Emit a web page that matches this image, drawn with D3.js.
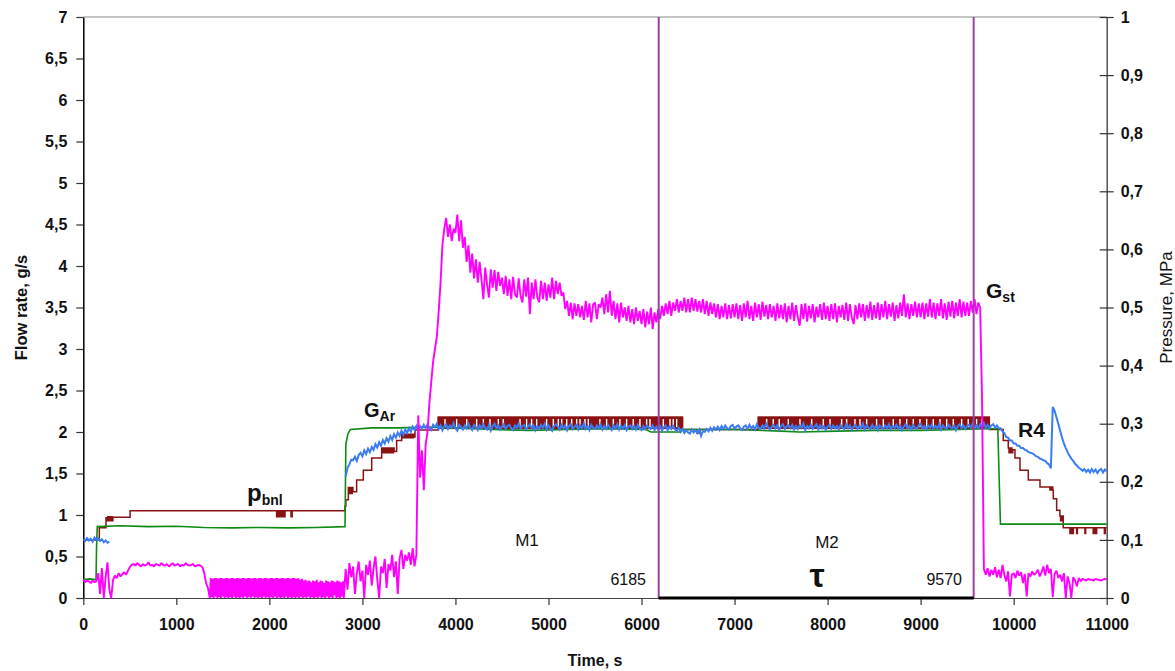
<!DOCTYPE html>
<html><head><meta charset="utf-8">
<script src="https://cdn.jsdelivr.net/npm/d3@7"></script>
<style>
body{margin:0;background:#fff}
text{font-family:"Liberation Sans",Arial,sans-serif}
</style>
</head><body>
<svg id="c" width="1175" height="671"></svg>
<script>
// ---------------- DATA ----------------
const timeTicks = [0,1000,2000,3000,4000,5000,6000,7000,8000,9000,10000,11000];
const flowTicks = [0,0.5,1,1.5,2,2.5,3,3.5,4,4.5,5,5.5,6,6.5,7];
const pressureTicks = [0,0.1,0.2,0.3,0.4,0.5,0.6,0.7,0.8,0.9,1];
const markerTimes = [6185, 9570];
const sampleStep = 20; // default s between samples of the logged signals

// G_st, g/s  (rows: [start time, samples, optional sample step])
const gstRows = [
 [0,[0.22,0.19,0.21,0.20,0.18,0.21,0.19,0.20,0.30,0.05,0.36,0.00,0.25,0.43,0.10,0.00,0.22,0.27,0.24,0.30,0.26,0.29,0.31,0.28,0.33]],
 [500,[0.37,0.40,0.41,0.39,0.42,0.40,0.38,0.41,0.39,0.40,0.43,0.39,0.40,0.38,0.41,0.40,0.39,0.42,0.40,0.39,0.41,0.38,0.40,0.42,0.39]],
 [1000,[0.40,0.41,0.38,0.40,0.39,0.42,0.40,0.39,0.40,0.41,0.38,0.39,0.40,0.39,0.37,0.30,0.18,0.12]],
 [1360,[0.00,0.24,0.01,0.23,0.00,0.24,0.02,0.24,0.00,0.23, 0.01,0.24,0.00,0.24,0.02,0.23,0.00,0.24,0.01,0.24,
        0.00,0.23,0.01,0.24,0.00,0.24,0.02,0.23,0.00,0.24, 0.01,0.24,0.00,0.23,0.01,0.24,0.00,0.24,0.02,0.23,
        0.00,0.24,0.01,0.24,0.00,0.23,0.02,0.24,0.00,0.24, 0.01,0.23,0.00,0.24,0.01,0.24,0.00,0.23,0.02,0.24,
        0.00,0.24,0.01,0.23,0.00,0.24,0.01,0.24,0.00,0.23, 0.02,0.24,0.00,0.24,0.01,0.23,0.00,0.24,0.01,0.24,
        0.00,0.23,0.02,0.24,0.00,0.24,0.01,0.23,0.00,0.24, 0.01,0.24,0.00,0.23,0.01,0.24,0.00,0.22,0.02,0.23,
        0.00,0.21,0.01,0.22,0.00,0.20,0.02,0.21,0.00,0.19, 0.01,0.21,0.00,0.20,0.01,0.22,0.00,0.19,0.02,0.21,
        0.00,0.20,0.01,0.18,0.00,0.21,0.02,0.20,0.00,0.19, 0.01,0.21,0.00,0.20,0.03,0.19,0.00,0.21,0.01,0.20,
        0.00,0.19,0.02,0.20,0.00,0.18], 10],
 [2820,[0.35,0.10,0.42,0.25,0.38,0.05,0.30,0.44,0.20]],
 [3000,[0.33,0.00,0.40,0.28,0.45,0.15,0.36,0.50,0.22,0.00,0.38,0.30,0.47,0.12,0.41,0.33,0.52,0.25,0.44,0.05,0.48,0.58,0.35,0.52,0.45]],
 [3500,[0.55,0.40,0.60,0.38,0.52,2.20,1.45,1.78,1.30,1.85,2.00,2.35,2.60,2.85,3.00,3.15,3.45,3.80,4.25,4.45,4.58,4.35,4.50,4.30,4.45]],
 [4000,[4.40,4.62,4.30,4.55,4.22,4.35,4.05,4.25,3.92,4.15,3.85,4.08,3.80,4.05,3.84,3.60,3.98,3.78,3.62,3.96,3.74,3.95,3.70,3.93,3.76]],
 [4500,[3.86,3.66,3.88,3.64,3.84,3.60,3.87,3.66,3.62,3.85,3.64,3.56,3.84,3.63,3.86,3.42,3.80,3.60,3.84,3.62,3.56,3.82,3.60,3.80,3.58]],
 [5000,[3.78,3.62,3.86,3.60,3.82,3.66,3.80,3.64,3.68,3.48,3.58,3.40,3.56,3.36,3.55,3.40,3.54,3.38,3.52,3.35,3.58,3.38,3.55,3.32,3.54]],
 [5500,[3.56,3.36,3.54,3.50,3.62,3.42,3.66,3.44,3.70,3.40,3.58,3.36,3.55,3.32,3.56,3.38,3.50,3.34,3.52,3.32,3.48,3.30,3.50,3.34,3.46]],
 [6000,[3.30,3.48,3.26,3.45,3.30,3.50,3.24,3.44,3.32,3.48,3.36,3.52,3.40,3.55,3.42,3.58,3.40,3.56,3.46,3.60,3.44,3.58,3.46,3.62,3.44]],
 [6500,[3.60,3.44,3.62,3.46,3.60,3.45,3.58,3.44,3.60,3.42,3.58,3.40,3.56,3.42,3.55,3.38,3.54,3.36,3.52,3.38,3.55,3.36,3.53,3.37,3.54]],
 [7000,[3.38,3.55,3.36,3.53,3.34,3.55,3.38,3.58,3.36,3.52,3.34,3.56,3.38,3.54,3.35,3.57,3.39,3.53,3.36,3.54,3.38,3.52,3.34,3.55,3.37]],
 [7500,[3.53,3.36,3.55,3.32,3.52,3.36,3.56,3.34,3.53,3.38,3.28,3.54,3.36,3.55,3.33,3.52,3.37,3.54,3.32,3.51,3.38,3.54,3.35,3.56,3.36]],
 [8000,[3.52,3.34,3.54,3.36,3.55,3.32,3.52,3.38,3.53,3.35,3.56,3.34,3.54,3.38,3.30,3.53,3.36,3.55,3.38,3.54,3.34,3.53,3.37,3.57,3.35]],
 [8500,[3.53,3.37,3.56,3.35,3.54,3.38,3.58,3.36,3.54,3.39,3.56,3.34,3.53,3.37,3.56,3.40,3.66,3.38,3.55,3.36,3.54,3.40,3.57,3.38,3.55]],
 [9000,[3.38,3.56,3.36,3.55,3.39,3.60,3.38,3.56,3.36,3.55,3.40,3.60,3.37,3.55,3.35,3.57,3.39,3.58,3.37,3.56,3.40,3.60,3.38,3.57,3.40]],
 [9500,[3.56,3.40,3.58,3.44,3.60,3.42,3.56,3.50,2.40,0.35,0.28,0.36,0.26,0.34,0.28,0.37,0.25,0.34,0.24,0.40,0.28,0.20,0.32,0.02,0.28]],
 [10000,[0.30,0.24,0.33,0.27,0.31,0.18,0.29,0.02,0.30,0.26,0.32,0.28,0.30,0.34,0.26,0.31,0.38,0.27,0.40,0.30,0.35,0.01,0.29,0.33,0.24]],
 [10500,[0.28,0.20,0.30,0.00,0.26,0.18,0.00,0.25,0.21,0.14,0.24,0.20,0.23,0.22,0.21,0.23,0.22,0.22,0.21,0.23,0.22,0.22,0.21,0.22,0.23]],
 [11000,[0.22]]
];

// G_Ar, g/s  ([time, value])
const garPoints = [[0,0.22],[70,0.23],[137,0.22],[142,0.60],[150,0.86],[400,0.87],[700,0.86],[1000,0.865],[1300,0.85],[1600,0.845],[1900,0.85],[2200,0.845],[2500,0.85],[2813,0.86],[2822,1.85],[2845,1.98],[2870,2.03],[3100,2.05],[3400,2.05],[3700,2.06],[4000,2.05],[4400,2.03],[4800,2.02],[5200,2.03],[5600,2.04],[6050,2.03],[6100,2.00],[6420,2.00],[6440,2.03],[7000,2.03],[7500,2.01],[7700,2.00],[8100,2.01],[8500,2.02],[9000,2.02],[9400,2.03],[9700,2.04],[9830,2.04],[9845,1.40],[9858,0.89],[11000,0.89]];

// R4, MPa  (rows: [start time, samples every 20 s]); no record between 300 and 2820 s
const r4StartRows = [
 [0,[0.101,0.098,0.103,0.099,0.102,0.097,0.104,0.100,0.103,0.098,0.101,0.096,0.099,0.095,0.097]]
];
const r4MainRows = [
 [2820,[0.209,0.224,0.230,0.238,0.237,0.243,0.236,0.246,0.250,0.244,0.254,0.248,0.257,0.251,0.260]],
 [3120,[0.255,0.265,0.259,0.268,0.262,0.272,0.266,0.275,0.269,0.279,0.272,0.282,0.276,0.285,0.279,0.288,0.281,0.290,0.284,0.292,0.286,0.295,0.289,0.296]],
 [3600,[0.289,0.296,0.291,0.298,0.292,0.299,0.293,0.289,0.298,0.294,0.300,0.291,0.297,0.289,0.296,0.299,0.291,0.297,0.293,0.301,0.292,0.288,0.298,0.294,0.290]],
 [4100,[0.297,0.292,0.300,0.293,0.289,0.298,0.294,0.289,0.297,0.292,0.299,0.293,0.290,0.298,0.288,0.296,0.300,0.292,0.297,0.290,0.295,0.299,0.291,0.296,0.298]],
 [4600,[0.292,0.289,0.297,0.293,0.300,0.291,0.296,0.298,0.290,0.295,0.299,0.292,0.297,0.289,0.296,0.291,0.298,0.293,0.300,0.290,0.297,0.292,0.288,0.296,0.299]],
 [5100,[0.295,0.290,0.298,0.292,0.297,0.289,0.296,0.299,0.291,0.295,0.298,0.290,0.297,0.292,0.300,0.291,0.296,0.289,0.298,0.293,0.291,0.297,0.292,0.299,0.290]],
 [5600,[0.296,0.291,0.298,0.293,0.289,0.297,0.292,0.299,0.290,0.296,0.292,0.298,0.289,0.295,0.297,0.291,0.296,0.290,0.298,0.292,0.289,0.296,0.291,0.297,0.293]],
 [6100,[0.291,0.297,0.289,0.295,0.290,0.296,0.288,0.294,0.297,0.289,0.295,0.291,0.296,0.290,0.288,0.293,0.286,0.291,0.284,0.289,0.285,0.283,0.290,0.285,0.289]],
 [6600,[0.284,0.290,0.279,0.287,0.286,0.291,0.287,0.293,0.288,0.294,0.290,0.295,0.289,0.296,0.291,0.297,0.292,0.290,0.296,0.298,0.291,0.295,0.297,0.292,0.289]],
 [7100,[0.295,0.297,0.291,0.298,0.292,0.296,0.290,0.299,0.293,0.291,0.297,0.292,0.300,0.294,0.290,0.295,0.298,0.292,0.297,0.289,0.296,0.299,0.291,0.295,0.297]],
 [7600,[0.292,0.298,0.290,0.296,0.291,0.297,0.293,0.300,0.289,0.296,0.292,0.298,0.291,0.295,0.299,0.290,0.297,0.292,0.296,0.289,0.295,0.298,0.291,0.297,0.292]],
 [8100,[0.296,0.290,0.298,0.293,0.291,0.299,0.292,0.297,0.289,0.295,0.298,0.291,0.296,0.292,0.300,0.290,0.297,0.293,0.291,0.298,0.292,0.296,0.289,0.297,0.293]],
 [8600,[0.291,0.297,0.292,0.299,0.290,0.296,0.293,0.298,0.291,0.297,0.289,0.295,0.299,0.292,0.296,0.290,0.298,0.293,0.291,0.297,0.300,0.292,0.296,0.290,0.297]],
 [9100,[0.293,0.298,0.291,0.296,0.292,0.299,0.290,0.297,0.293,0.291,0.298,0.294,0.292,0.297,0.289,0.296,0.299,0.292,0.297,0.291,0.296,0.298,0.293,0.300,0.292]],
 [9600,[0.297,0.292,0.299,0.294,0.301,0.293,0.298,0.292,0.297,0.299,0.293,0.297,0.292,0.292,0.287,0.284,0.277,0.276,0.271,0.271,0.266,0.266,0.262,0.262,0.258]],
 [10100,[0.258,0.255,0.254,0.251,0.250,0.249,0.247,0.244,0.243,0.240,0.239,0.237,0.236,0.232,0.230,0.223,0.329,0.322,0.311,0.300,0.288,0.276,0.266,0.258,0.251]],
 [10600,[0.245,0.240,0.236,0.231,0.228,0.224,0.222,0.219,0.222,0.217,0.221,0.216,0.222,0.217,0.221,0.215,0.220,0.222,0.216,0.221,0.218]]
];

// p_bnl, MPa: level changes [time, value] (step signal)
const pbnlHi = 0.311, pbnlLo = 0.292;
const pbnlSteps = [[0,0.100],[172,0.121],[244,0.138],
 [255,0.133],[262,0.140],[268,0.133],[275,0.140],[282,0.133],[290,0.140],[296,0.133],[304,0.140],[310,0.133],[318,0.139],
 [503,0.150],
 [2078,0.140],[2088,0.150],[2094,0.140],[2104,0.150],[2110,0.140],[2120,0.150],[2126,0.140],[2136,0.150],[2142,0.140],[2152,0.150],[2158,0.140],[2168,0.150],
 [2233,0.140],[2245,0.150],
 [2813,0.158],[2822,0.169],
 [2849,0.190],[2856,0.180],[2863,0.190],[2870,0.180],[2877,0.190],[2884,0.180],[2891,0.190],[2898,0.183],
 [2938,0.203],[3010,0.220],[3100,0.241],
 [3207,0.258],[3215,0.250],[3225,0.258],[3233,0.250],[3243,0.258],[3251,0.250],[3261,0.258],[3269,0.250],[3279,0.258],[3287,0.250],[3297,0.258],[3305,0.250],[3315,0.258],[3323,0.250],[3333,0.258],[3341,0.252],
 [3368,0.271],
 [3422,0.282],[3430,0.276],[3440,0.282],[3448,0.276],[3458,0.282],[3466,0.276],[3476,0.282],[3484,0.276],[3494,0.282],[3502,0.276],[3512,0.282],[3520,0.276],[3530,0.282],[3538,0.276],[3548,0.282],[3556,0.277],
 [3565,0.289],
 [3816,0.311],
 [6440,0.290],[6593,0.284],[6628,0.290],
 [7256,0.311],
 [9738,0.290],[9888,0.271],
 [9942,0.258],[9950,0.250],[9958,0.258],[9966,0.250],[9974,0.258],[9982,0.250],[9990,0.255],
 [10014,0.241],[10068,0.220],[10157,0.203],[10283,0.191],
 [10390,0.186],[10398,0.191],[10406,0.186],[10414,0.191],[10420,0.186],
 [10426,0.171],[10462,0.151],
 [10497,0.141],[10504,0.133],[10511,0.141],[10518,0.133],[10525,0.141],
 [10533,0.121],
 [10605,0.111],[10613,0.121],[10620,0.111],[10628,0.121],[10634,0.111],[10642,0.121],
 [10677,0.111],[10685,0.121],[10766,0.111],[10774,0.121],
 [10855,0.111],[10863,0.121],[10870,0.111],[10878,0.121],[10884,0.111],[10892,0.121],
 [10975,0.111],[10985,0.121],[11000,0.121]];
// periods where p_bnl flickers between pbnlLo and pbnlHi, and the brief calm instants inside them
const pbnlFlicker = [[3816, 6440], [7256, 9738]];
const pbnlCalm = [3888,4013,4121,4228,4300,4371,4461,4514,4694,4765,4819,4873,4980,5052,5106,5142,5196,5249,5303,5339,5392,5428,5553,5625,5697,5768,5840,5911,5983,6055,6091,6234,6306,6341,6378,
 7345,7416,7480,7578,7703,7829,7954,8026,8151,8205,8294,8348,8420,8527,8599,8706,8778,8850,8921,8993,9065,9136,9208,9280,9351,9441,9512,9602,9656];

// ---------------- CHART ----------------
const svg = d3.select("#c");
const L = 83.3, R = 1106.7, T = 17, B = 598;
const x = d3.scaleLinear().domain([0, 11000]).range([L, R]);
const yF = d3.scaleLinear().domain([0, 7]).range([B, T]);
const yP = d3.scaleLinear().domain([0, 1]).range([B, T]);
const comma = v => String(v).replace(".", ",");
const BROWN = "#8b1212";

const fromRows = rows => rows.flatMap(([t0, vals, step]) => vals.map((v, i) => [t0 + i * (step || sampleStep), v]));
const gst = fromRows(gstRows);
const r4a = fromRows(r4StartRows);
const r4b = fromRows(r4MainRows);

// frame top line
svg.append("line").attr("x1", L).attr("x2", R).attr("y1", T).attr("y2", T)
  .attr("stroke", "#b0b0b0").attr("stroke-width", 1.5);

// axes
const axL = svg.append("g").attr("transform", `translate(${L},0)`)
  .call(d3.axisLeft(yF).tickValues(flowTicks).tickFormat(comma).tickSize(7).tickPadding(9).tickSizeOuter(0));
axL.select(".domain").attr("stroke", "#000").attr("stroke-width", 1.5);
axL.selectAll(".tick line").attr("stroke", "#333").attr("stroke-width", 1.2);

const axR = svg.append("g").attr("transform", `translate(${R},0)`)
  .call(d3.axisRight(yP).tickValues(pressureTicks).tickFormat(comma).tickSize(7).tickPadding(7).tickSizeOuter(0));
axR.select(".domain").attr("stroke", "#555").attr("stroke-width", 1.5);
axR.selectAll(".tick line").attr("x1", -7).attr("x2", 7).attr("stroke", "#333").attr("stroke-width", 1.2);

const axB = svg.append("g").attr("transform", `translate(0,${B})`)
  .call(d3.axisBottom(x).tickValues(timeTicks).tickFormat(d => String(d)).tickSize(7).tickPadding(14).tickSizeOuter(0));
axB.select(".domain").attr("stroke", "#444").attr("stroke-width", 1.2);
axB.selectAll(".tick line").attr("stroke", "#333").attr("stroke-width", 1.2);

svg.selectAll(".tick text").attr("font-family", '"Liberation Sans",Arial,sans-serif')
  .attr("font-size", 16).attr("font-weight", "bold").attr("fill", "#111");

// axis titles
svg.append("text").attr("transform", `translate(27,${(T + B) / 2}) rotate(-90)`).attr("text-anchor", "middle")
  .attr("font-size", 16.5).attr("font-weight", "bold").attr("fill", "#111").text("Flow rate, g/s");
svg.append("text").attr("transform", `translate(1172,${(T + B) / 2}) rotate(-90)`).attr("text-anchor", "middle")
  .attr("font-size", 17).attr("fill", "#111").text("Pressure, MPa");
svg.append("text").attr("x", (L + R) / 2).attr("y", 666).attr("text-anchor", "middle")
  .attr("font-size", 16).attr("font-weight", "bold").attr("fill", "#111").text("Time, s");

// series
const lineF = d3.line().x(d => x(d[0])).y(d => yF(d[1]));
const lineP = d3.line().x(d => x(d[0])).y(d => yP(d[1]));
const stepP = d3.line().x(d => x(d[0])).y(d => yP(d[1])).curve(d3.curveStepAfter);

// p_bnl flicker blocks
svg.selectAll("rect.flick").data(pbnlFlicker).join("rect").attr("class", "flick")
  .attr("x", d => x(d[0])).attr("width", d => x(d[1]) - x(d[0]))
  .attr("y", yP(pbnlHi)).attr("height", yP(pbnlLo) - yP(pbnlHi))
  .attr("fill", BROWN).attr("stroke", BROWN).attr("stroke-width", 1.5);
svg.selectAll("line.calm").data(pbnlCalm).join("line").attr("class", "calm")
  .attr("x1", d => x(d)).attr("x2", d => x(d))
  .attr("y1", yP(pbnlHi) + 1.6).attr("y2", yP(pbnlLo) - 1.2)
  .attr("stroke", "#fff").attr("stroke-width", 1.4);
svg.append("path").datum(pbnlSteps).attr("d", stepP).attr("fill", "none").attr("stroke", BROWN).attr("stroke-width", 1.5);

svg.append("path").datum(garPoints).attr("d", lineF).attr("fill", "none").attr("stroke", "#0d8a12").attr("stroke-width", 1.6);
[r4a, r4b].forEach(seg => svg.append("path").datum(seg).attr("d", lineP).attr("fill", "none")
  .attr("stroke", "#3b7cf3").attr("stroke-width", 2));
svg.append("path").datum(gst).attr("d", lineF).attr("fill", "none").attr("stroke", "#ff00ff")
  .attr("stroke-width", 1.9).attr("stroke-linejoin", "bevel");

// markers
markerTimes.forEach(t => svg.append("line").attr("x1", x(t)).attr("x2", x(t)).attr("y1", T).attr("y2", B)
  .attr("stroke", "#a23ca6").attr("stroke-width", 2));
svg.append("line").attr("x1", x(markerTimes[0])).attr("x2", x(markerTimes[1])).attr("y1", B).attr("y2", B)
  .attr("stroke", "#000").attr("stroke-width", 3);

// annotations
const ann = (xx, yy, txt, size, weight, anchor) => svg.append("text").attr("x", xx).attr("y", yy)
  .attr("font-size", size).attr("font-weight", weight || "normal").attr("text-anchor", anchor || "start").attr("fill", "#111").text(txt);
ann(527, 546, "M1", 17, "normal", "middle");
ann(827, 548, "M2", 17, "normal", "middle");
ann(646, 585, String(markerTimes[0]), 16, "normal", "end");
ann(962, 585, String(markerTimes[1]), 16, "normal", "end");
svg.append("text").attr("x", 817).attr("y", 587).attr("text-anchor", "middle")
  .attr("font-family", '"Liberation Serif","DejaVu Serif",serif').attr("font-size", 34).attr("font-weight", "bold")
  .attr("fill", "#111").text("τ");
ann(1018, 437, "R4", 21, "bold");

function subLabel(xx, yy, main, sub, size) {
  const t = svg.append("text").attr("x", xx).attr("y", yy).attr("font-weight", "bold").attr("fill", "#111");
  t.append("tspan").attr("font-size", size).text(main);
  t.append("tspan").attr("font-size", 14).attr("dy", 4).text(sub);
}
subLabel(986, 298, "G", "st", 21);
subLabel(364, 417, "G", "Ar", 20);
subLabel(247, 501, "p", "bnl", 24);
</script>
</body></html>
